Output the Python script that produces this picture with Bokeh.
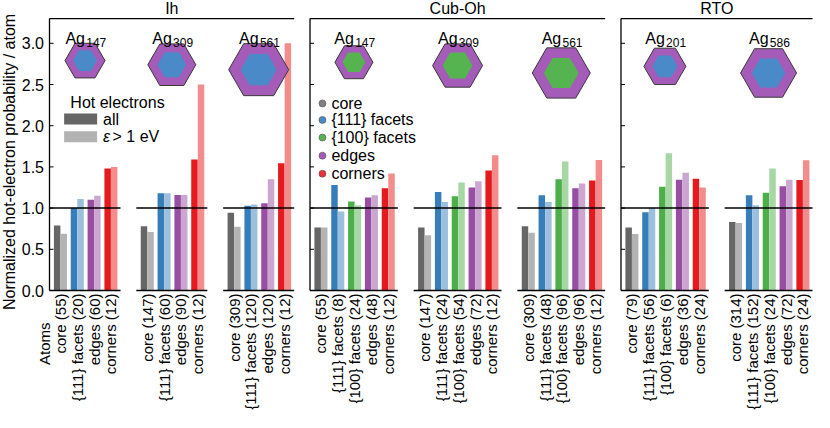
import math
from bokeh.plotting import figure
from bokeh.models import Range1d, ColumnDataSource
from bokeh.core.properties import value
from bokeh.embed import file_html
from bokeh.resources import INLINE

FONT = "Liberation Sans"

# ---------------- data ----------------
PANELS = ["Ih", "Cub-Oh", "RTO"]
GROUP_PANEL = [0, 0, 0, 1, 1, 1, 2, 2]
GROUP_SIZE = ["147", "309", "561", "147", "309", "561", "201", "586"]

IH_SITES = ["core", "{111} facets", "edges", "corners"]
OH_SITES = ["core", "{111} facets", "{100} facets", "edges", "corners"]
RTO_SITES = ["core", "{111} facets", "{100} facets", "edges", "corners"]

IH147_ATOMS = [55, 20, 60, 12]
IH147_ALL = [0.79, 1.00, 1.10, 1.48]
IH147_HOT = [0.69, 1.11, 1.15, 1.50]

IH309_ATOMS = [147, 60, 90, 12]
IH309_ALL = [0.78, 1.18, 1.16, 1.59]
IH309_HOT = [0.71, 1.18, 1.16, 2.50]

IH561_ATOMS = [309, 120, 120, 12]
IH561_ALL = [0.945, 1.03, 1.06, 1.545]
IH561_HOT = [0.775, 1.045, 1.35, 3.00]

OH147_ATOMS = [55, 8, 24, 48, 12]
OH147_ALL = [0.765, 1.28, 1.08, 1.13, 1.24]
OH147_HOT = [0.765, 0.96, 1.035, 1.155, 1.42]

OH309_ATOMS = [147, 24, 54, 72, 12]
OH309_ALL = [0.765, 1.195, 1.145, 1.25, 1.455]
OH309_HOT = [0.67, 1.075, 1.31, 1.325, 1.64]

OH561_ATOMS = [309, 48, 96, 96, 12]
OH561_ALL = [0.78, 1.155, 1.35, 1.24, 1.335]
OH561_HOT = [0.70, 1.075, 1.565, 1.30, 1.585]

RTO201_ATOMS = [79, 56, 6, 36, 24]
RTO201_ALL = [0.765, 0.95, 1.26, 1.345, 1.355]
RTO201_HOT = [0.685, 1.005, 1.665, 1.43, 1.25]

RTO586_ATOMS = [314, 152, 24, 72, 24]
RTO586_ALL = [0.83, 1.155, 1.185, 1.265, 1.34]
RTO586_HOT = [0.82, 1.035, 1.48, 1.345, 1.58]

Y_TICKS = [0.0, 0.5, 1.0, 1.5, 2.0, 2.5, 3.0]
Y_LABEL = "Normalized hot-electron probability / atom"
X_TITLE = "Atoms"
LEGEND_TITLE = "Hot electrons"
LEGEND_SITES = ["core", "{111} facets", "{100} facets", "edges", "corners"]

GROUPS = [
    (IH_SITES, IH147_ATOMS, IH147_ALL, IH147_HOT),
    (IH_SITES, IH309_ATOMS, IH309_ALL, IH309_HOT),
    (IH_SITES, IH561_ATOMS, IH561_ALL, IH561_HOT),
    (OH_SITES, OH147_ATOMS, OH147_ALL, OH147_HOT),
    (OH_SITES, OH309_ATOMS, OH309_ALL, OH309_HOT),
    (OH_SITES, OH561_ATOMS, OH561_ALL, OH561_HOT),
    (RTO_SITES, RTO201_ATOMS, RTO201_ALL, RTO201_HOT),
    (RTO_SITES, RTO586_ATOMS, RTO586_ALL, RTO586_HOT),
]

# ---------------- styles / layout ----------------
DARK = {"core": "#666666", "{111} facets": "#377eb8", "{100} facets": "#4daf4a",
        "edges": "#984ea3", "corners": "#e41a1c"}
LIGHT = {"core": "#b3b3b3", "{111} facets": "#9bbfdc", "{100} facets": "#a6d7a4",
         "edges": "#cba6d1", "corners": "#f28c8d"}
DOT = {"core": "#808080", "{111} facets": "#4a8ac8", "{100} facets": "#55b44f",
       "edges": "#a45cb8", "corners": "#e8303a"}

W, H = 814, 412
PAD_L, PAD_R, GAP = 0.65, 0.57, 0.94
BAR_W, BAR_OFF = 0.385, 0.195
YTOP = 3.30
X0_PX = 49.0        # pixel position of the first panel spine
Y0_PX = 290.0       # pixel position of value 0
PX_V = 82.4         # pixels per value unit
FS = "16px"
FS_TICK = "15px"

PART_SIZE = [40, 48, 60, 38, 50, 58, 42, 56]
PART_Y = [2.79, 2.74, 2.68, 2.77, 2.73, 2.64, 2.72, 2.64]
PART_INNER = ["#4a8ac8", "#4a8ac8", "#4a8ac8", "#55b44f", "#55b44f", "#55b44f", "#4a8ac8", "#4a8ac8"]

# ---------------- geometry from data ----------------
starts, ends, centers_g = [], [], []
bx, btop, bcol = [], [], []
ticks, tick_labels = [], []
pos = 0.0
for sites, atoms, v_all, v_hot in GROUPS:
    s = pos
    n = len(sites)
    e = s + PAD_L + (n - 1) + PAD_R
    starts.append(s)
    ends.append(e)
    centers_g.append((s + e) / 2)
    for k, site in enumerate(sites):
        c = s + PAD_L + k
        ticks.append(c)
        tick_labels.append(f"{site} ({atoms[k]})")
        bx += [c - BAR_OFF, c + BAR_OFF]
        btop += [v_all[k], v_hot[k]]
        bcol += [DARK[site], LIGHT[site]]
    pos = e + GAP
total = ends[-1]
PX_U = (W - 2 - X0_PX) / total   # pixels per x unit

panel_start = [min(starts[i] for i in range(8) if GROUP_PANEL[i] == q) for q in range(3)]
panel_end = [max(ends[i] for i in range(8) if GROUP_PANEL[i] == q) for q in range(3)]

p = figure(width=W, height=H,
           x_range=Range1d(-X0_PX / PX_U, (W - X0_PX) / PX_U),
           y_range=Range1d((Y0_PX - H) / PX_V, Y0_PX / PX_V),
           output_backend="svg", toolbar_location=None,
           min_border_left=0, min_border_right=0, min_border_top=0, min_border_bottom=0)
p.outline_line_color = None
p.xaxis.visible = False
p.yaxis.visible = False
p.xgrid.grid_line_color = None
p.ygrid.grid_line_color = None
p.background_fill_color = "white"

TXT = dict(text_font=value(FONT), text_color="black")

# bars
src = ColumnDataSource(dict(x=bx, top=btop, color=bcol))
p.vbar(x="x", top="top", bottom=0, width=BAR_W, fill_color="color", line_color=None, source=src)

# reference line at 1 and bottom spines per group
p.segment(x0=starts, x1=ends, y0=[1.0] * 8, y1=[1.0] * 8, line_color="black", line_width=1.5)
p.segment(x0=starts, x1=ends, y0=[0.0] * 8, y1=[0.0] * 8, line_color="black", line_width=1.4)

# panel top spines and left spines with inward ticks
p.segment(x0=panel_start, x1=panel_end, y0=[YTOP] * 3, y1=[YTOP] * 3, line_color="black", line_width=1.3)
p.segment(x0=panel_start, x1=panel_start, y0=[0.0] * 3, y1=[YTOP] * 3, line_color="black", line_width=1.3)
for ps in panel_start:
    p.segment(x0=[ps] * len(Y_TICKS), x1=[ps + 4 / PX_U] * len(Y_TICKS),
              y0=Y_TICKS, y1=Y_TICKS, line_color="black", line_width=1)

# y tick labels and y label
p.text(x=[-5.5 / PX_U] * len(Y_TICKS), y=Y_TICKS, text=[f"{t:.1f}" for t in Y_TICKS],
       text_align="right", text_baseline="middle", text_font_size=value(FS), **TXT)
p.text(x=[-40 / PX_U], y=[1.56], text=[Y_LABEL], angle=math.pi / 2,
       text_align="center", text_baseline="middle", text_font_size=value(FS), **TXT)

# x tick labels (rotated) and "Atoms"
p.text(x=ticks, y=[-3 / PX_V] * len(ticks), text=tick_labels, angle=math.pi / 2,
       text_align="right", text_baseline="middle", text_font_size=value(FS_TICK), **TXT)
p.text(x=[ticks[0] - 16 / PX_U], y=[-32 / PX_V], text=[X_TITLE], angle=math.pi / 2,
       text_align="right", text_baseline="middle", text_font_size=value(FS_TICK), **TXT)

# panel titles
p.text(x=[(a + b) / 2 for a, b in zip(panel_start, panel_end)], y=[3.42] * 3, text=PANELS,
       text_align="center", text_baseline="middle", text_font_size=value(FS), **TXT)

# particle placeholders
p.scatter(x=centers_g, y=PART_Y, size=PART_SIZE, marker="hex", fill_color="#a45cb8",
          line_color="#3a3a3a", line_width=1)
p.scatter(x=centers_g, y=PART_Y, size=[s * 0.6 for s in PART_SIZE], marker="hex",
          fill_color=PART_INNER, line_color=None)

# Ag labels with subscript sizes
p.text(x=centers_g, y=[3.06] * 8, text=["Ag"] * 8, text_align="right", text_baseline="alphabetic",
       text_font_size=value(FS), **TXT)
p.text(x=[c + 1.2 / PX_U for c in centers_g], y=[3.005] * 8, text=GROUP_SIZE, text_align="left",
       text_baseline="alphabetic", text_font_size=value("12px"), **TXT)

# legend 1: Hot electrons
p.text(x=[1.24], y=[2.28], text=[LEGEND_TITLE], text_baseline="middle",
       text_font_size=value(FS), **TXT)
p.rect(x=[1.85, 1.85], y=[2.08, 1.865], width=33, height=11, width_units="screen",
       height_units="screen", fill_color=[DARK["core"], LIGHT["core"]], line_color=None)
p.text(x=[3.18], y=[2.08], text=["all"], text_baseline="middle",
       text_font_size=value(FS), **TXT)
p.text(x=[3.18], y=[1.865], text=["ε"], text_baseline="middle", text_font_style="italic",
       text_font_size=value(FS), **TXT)
p.text(x=[3.18 + 9.5 / PX_U], y=[1.865], text=["> 1 eV"], text_baseline="middle",
       text_font_size=value(FS), **TXT)

# legend 2: site types
cs = panel_start[1]
ly = [2.27, 2.07, 1.856, 1.636, 1.418]
p.scatter(x=[cs + 0.74] * 5, y=ly, size=7, fill_color=[DOT[s] for s in LEGEND_SITES],
          line_color="#555555", line_width=0.6)
p.text(x=[cs + 1.27] * 5, y=ly, text=LEGEND_SITES, text_baseline="middle",
       text_font_size=value(FS), **TXT)

open("out.html", "w").write(file_html(p, INLINE))
